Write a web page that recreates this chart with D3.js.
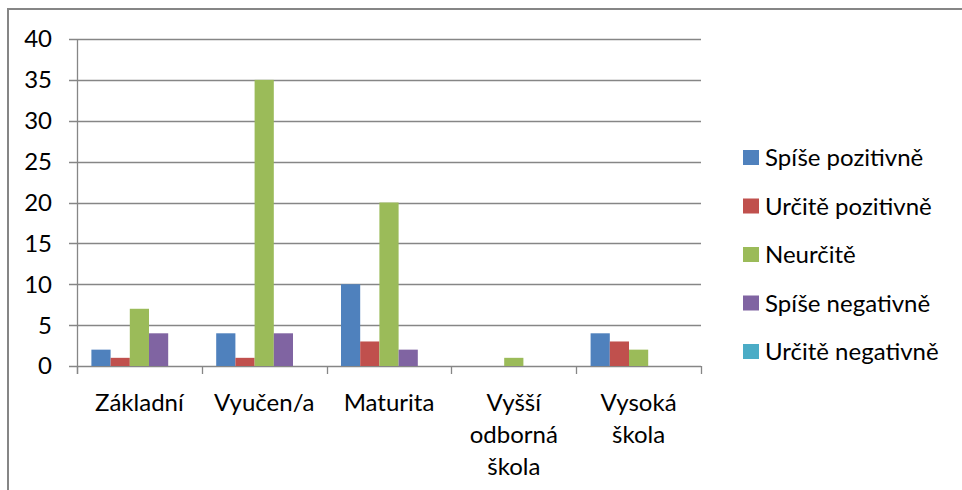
<!DOCTYPE html>
<html>
<head>
<meta charset="utf-8">
<script src="https://cdn.jsdelivr.net/npm/d3@7"></script>
<style>
  html, body { margin: 0; padding: 0; background: #fff; }
  svg { display: block; }
  text { font-family: Lato, "Open Sans", sans-serif; fill: #000; }
</style>
</head>
<body>
<svg id="chart" width="962" height="490"></svg>
<script>
// Education levels on the x axis
const categories = ["Základní", "Vyučen/a", "Maturita", "Vyšší odborná škola", "Vysoká škola"];

// Answer groups (legend order)
const seriesNames = ["Spíše pozitivně", "Určitě pozitivně", "Neurčitě", "Spíše negativně", "Určitě negativně"];
const seriesColors = ["#4F81BD", "#C0504D", "#9BBB59", "#8064A2", "#4BACC6"];

// Counts per education level, one array per answer group
const spisePozitivne   = [2, 4, 10, 0, 4];
const urcitePozitivne  = [1, 1, 3, 0, 3];
const neurcite         = [7, 35, 20, 1, 2];
const spiseNegativne   = [4, 4, 2, 0, 0];
const urciteNegativne  = [0, 0, 0, 0, 0];

const yTicks = [0, 5, 10, 15, 20, 25, 30, 35, 40];

const seriesValues = [spisePozitivne, urcitePozitivne, neurcite, spiseNegativne, urciteNegativne];

const svg = d3.select("#chart");
const fontSize = 24;
const gridColor = "#868686";

// Chart frame
svg.append("rect")
  .attr("x", 8).attr("y", 9)
  .attr("width", 980).attr("height", 500)
  .attr("fill", "none")
  .attr("stroke", gridColor)
  .attr("stroke-width", 2);

const plot = { left: 77, right: 701, top: 39, bottom: 366 };

const x = d3.scaleBand()
  .domain(categories)
  .range([plot.left, plot.right])
  .paddingInner(0).paddingOuter(0);

const xs = d3.scaleBand()
  .domain(seriesNames)
  .range([0, x.bandwidth()])
  .paddingInner(0).paddingOuter(0.75);

const y = d3.scaleLinear()
  .domain([0, 40])
  .range([plot.bottom, plot.top]);

// Horizontal gridlines (extending left past the axis as tick marks)
svg.append("g")
  .selectAll("line")
  .data(yTicks)
  .join("line")
  .attr("x1", plot.left - 8)
  .attr("x2", plot.right)
  .attr("y1", d => Math.round(y(d)) + 0.5)
  .attr("y2", d => Math.round(y(d)) + 0.5)
  .attr("stroke", gridColor)
  .attr("stroke-width", 1.3);

// Y axis line
svg.append("line")
  .attr("x1", plot.left + 0.5).attr("x2", plot.left + 0.5)
  .attr("y1", plot.top).attr("y2", plot.bottom + 8)
  .attr("stroke", gridColor).attr("stroke-width", 1.3);

// X axis tick marks at category boundaries
const boundaries = categories.map(c => x(c)).concat([plot.right]);
svg.append("g")
  .selectAll("line")
  .data(boundaries)
  .join("line")
  .attr("x1", d => Math.round(d) + 0.5)
  .attr("x2", d => Math.round(d) + 0.5)
  .attr("y1", plot.bottom)
  .attr("y2", plot.bottom + 8)
  .attr("stroke", gridColor).attr("stroke-width", 1.3);

// Y tick labels
svg.append("g")
  .selectAll("text")
  .data(yTicks)
  .join("text")
  .attr("x", 52)
  .attr("y", d => y(d))
  .attr("dy", "0.35em")
  .attr("text-anchor", "end")
  .style("font-size", fontSize + "px")
  .text(d => d);

// Bars
const groups = svg.append("g")
  .selectAll("g")
  .data(seriesNames.map((name, i) => ({ name, color: seriesColors[i], values: seriesValues[i] })))
  .join("g")
  .attr("fill", d => d.color);

groups.selectAll("rect")
  .data(d => d.values.map((v, j) => ({ v, cat: categories[j], name: d.name })))
  .join("rect")
  .attr("x", d => x(d.cat) + xs(d.name))
  .attr("width", xs.bandwidth())
  .attr("y", d => y(d.v))
  .attr("height", d => y(0) - y(d.v));

// Category labels, one word per line
const catLabels = svg.append("g")
  .selectAll("text")
  .data(categories)
  .join("text")
  .attr("x", d => x(d) + x.bandwidth() / 2)
  .attr("y", 411)
  .attr("text-anchor", "middle")
  .style("font-size", fontSize + "px");

catLabels.selectAll("tspan")
  .data(d => d.split(" "))
  .join("tspan")
  .attr("x", function () { return d3.select(this.parentNode).attr("x"); })
  .attr("dy", (d, i) => i === 0 ? 0 : 32)
  .text(d => d);

// Legend
const legend = svg.append("g")
  .selectAll("g")
  .data(seriesNames)
  .join("g")
  .attr("transform", (d, i) => `translate(743, ${166 + i * 48.5})`);

legend.append("rect")
  .attr("x", 0).attr("y", -16)
  .attr("width", 16).attr("height", 15)
  .attr("fill", (d, i) => seriesColors[i]);

legend.append("text")
  .attr("x", 22).attr("y", 0)
  .style("font-size", fontSize + "px")
  .text(d => d);
</script>
</body>
</html>
